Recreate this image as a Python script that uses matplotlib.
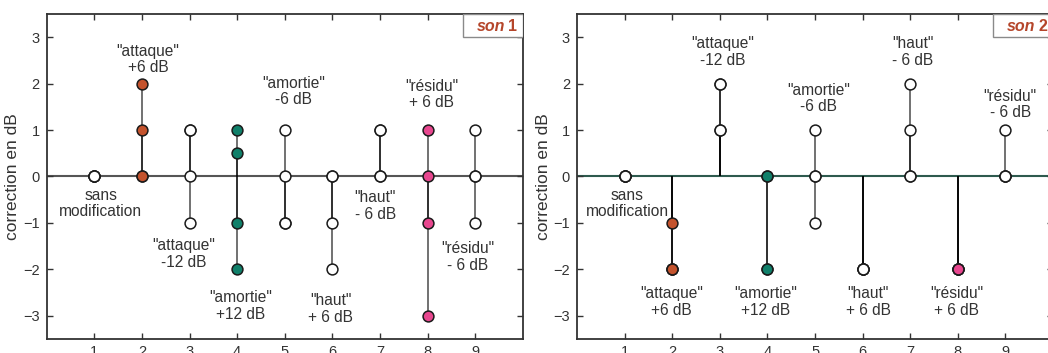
import matplotlib
matplotlib.use("Agg")
import matplotlib.pyplot as plt
from matplotlib.patches import Rectangle

plt.rcParams['font.family'] = ['Liberation Sans', 'DejaVu Sans']

# versions jouees (axe x) et corrections relevees pour chaque version
versions = [1, 2, 3, 4, 5, 6, 7, 8, 9]
son1_values = [[0, 0, 0, 0], [2, 1, 0, 0], [1, 1, 0, -1], [1, 0.5, -1, -2], [1, 0, -1, -1],
               [0, 0, -1, -2], [1, 1, 0, 0], [1, 0, -1, -3], [1, 0, 0, -1]]
son2_values = [[0, 0, 0, 0], [-1, -2, -2, -2], [2, 2, 1, 1], [0, -2, -2, 0], [1, 0, 0, -1],
               [-2, -2, -2, -2], [2, 1, 0, 0], [-2, -2, -2, -2], [1, 0, 0, 0]]
marker_colors = ['white', '#c4532d', 'white', '#10806a', 'white', 'white', 'white', '#e8478f', 'white']
y_ticks = [-3, -2, -1, 0, 1, 2, 3]

son1_labels = [('"attaque"\n+6 dB', 2.13, 2.52), ('"amortie"\n-6 dB', 5.18, 1.83),
               ('"résidu"\n+ 6 dB', 8.08, 1.76), ('sans\nmodification', 1.13, -0.58),
               ('"attaque"\n-12 dB', 2.87, -1.67), ('"amortie"\n+12 dB', 4.07, -2.79),
               ('"haut"\n+ 6 dB', 5.96, -2.85), ('"haut"\n- 6 dB', 6.9, -0.64),
               ('"résidu"\n- 6 dB', 8.84, -1.73)]
son2_labels = [('sans\nmodification', 1.06, -0.58), ('"attaque"\n-12 dB', 3.06, 2.68),
               ('"amortie"\n-6 dB', 5.08, 1.68), ('"haut"\n- 6 dB', 7.05, 2.68),
               ('"résidu"\n- 6 dB', 9.1, 1.55), ('"attaque"\n+6 dB', 1.99, -2.7),
               ('"amortie"\n+12 dB', 3.96, -2.7), ('"haut"\n+ 6 dB', 6.12, -2.7),
               ('"résidu"\n+ 6 dB', 7.97, -2.7)]

fig = plt.figure(figsize=(10.48, 3.53), dpi=100)
ax1 = fig.add_axes([0.0446, 0.0397, 0.4542, 0.9207])
ax2 = fig.add_axes([0.5506, 0.0397, 0.4542, 0.9207])

txtcol = '#333333'


def draw_panel(ax, values, labels, name, zero_col):
    ax.axhline(0, color=zero_col, lw=1.5, zorder=1)
    for x, vals, col in zip(versions, values, marker_colors):
        for v in vals:
            ax.vlines(x, 0, v, colors='black', alpha=0.6, lw=1.3, zorder=2)
        for v in vals:
            ax.plot(x, v, 'o', ms=7.8, mfc=col, mec='#1a1a1a', mew=1.1, zorder=3)
    for t, x, y in labels:
        ax.text(x, y, t, ha='center', va='center', fontsize=11.2, color=txtcol,
                linespacing=1.12, zorder=4)
    ax.set_xlim(0, 10)
    ax.set_ylim(-3.5, 3.5)
    ax.set_xticks(versions)
    ax.set_yticks(y_ticks)
    ax.tick_params(direction='in', top=True, right=True, length=4, width=1, pad=5,
                   color='#333333', labelcolor=txtcol, labelsize=10.5)
    ax.tick_params(axis='x', pad=4)
    for s in ax.spines.values():
        s.set_color('#333333')
        s.set_linewidth(1.3)
    ax.set_ylabel('correction en dB', fontsize=12.5, color=txtcol, labelpad=2)
    # cartouche "son n"
    ax.add_patch(Rectangle((0.8746, 0.929), 0.1254, 0.071, transform=ax.transAxes,
                           facecolor='white', edgecolor='#8a8a8a', lw=1, zorder=5))
    ax.text(0.9628, 0.963, 'son', transform=ax.transAxes, ha='right', va='center',
            fontsize=11.5, fontweight='bold', fontstyle='italic', color='#b5452a', zorder=6)
    ax.text(0.969, 0.963, name, transform=ax.transAxes, ha='left', va='center',
            fontsize=11.5, fontweight='bold', color='#b5452a', zorder=6)


draw_panel(ax1, son1_values, son1_labels, '1', '#555555')
draw_panel(ax2, son2_values, son2_labels, '2', '#2e5a4e')

plt.savefig('out.png', dpi=100)
